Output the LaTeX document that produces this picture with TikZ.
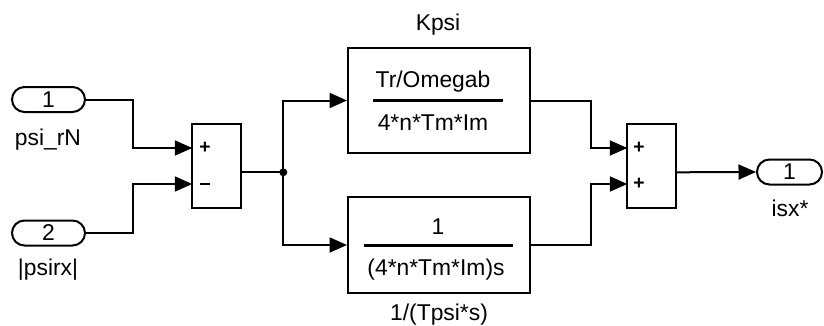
\documentclass[tikz,border=0pt]{standalone}
\usepackage{fontspec}
\setmainfont{Liberation Sans}
\usetikzlibrary{positioning, arrows.meta}

\tikzset{
  wire/.style={line width=0.4mm},
  sig/.style={wire, -{Triangle[length=3.5mm,width=3mm]}},
  port/.style={draw, line width=0.4mm, rounded corners=2.5mm, minimum height=5mm, inner sep=0pt},
  gainbox/.style={draw, line width=0.4mm, minimum width=36.4mm},
  sumbox/.style={draw, line width=0.4mm, minimum width=9.8mm, minimum height=16.8mm},
  sgn/.style={font=\fontsize{11}{12}\selectfont\bfseries, inner sep=0pt},
  bar/.style={line width=0.6mm},
}

\begin{document}
\begin{tikzpicture}[x=0.2mm, y=-0.2mm, font=\fontsize{13}{15}\selectfont]
            \useasboundingbox (0,0) rectangle (824,325);

            % ports
            \node[port, minimum width=14.6mm] (in1) at (48.5,99.5) {1};
            \node (in1lbl) at (48,140) {psi\_rN};
            \node[port, minimum width=14.6mm] (in2) at (48.5,233) {2};
            \node (in2lbl) at (48,270) {|psirx|};
            \node[port, minimum width=13mm] (out1) at (789.5,172) {1};
            \node (out1lbl) at (790,208) {isx*};

            % sums
            \node[sumbox] (sum1) at (216.5,166.3) {};
            \node[sgn] (sum1p) at (205,148) {+};
            \node[sgn] (sum1m) at (205,184) {\rule{2mm}{0.45mm}};
            \coordinate (s1a) at (192.3,148);
            \coordinate (s1b) at (192.3,184);
            \coordinate (s1o) at (241,172.3);
            \node[sumbox] (sum2) at (651.2,166.3) {};
            \node[sgn] (sum2p) at (639,148) {+};
            \node[sgn] (sum2q) at (639,184) {+};
            \coordinate (s2a) at (627.3,148);
            \coordinate (s2b) at (627.3,184);
            \coordinate (s2o) at (675,172.3);

            % gains
            \node[gainbox, minimum height=21mm] (kpsi) at (439,100.5) {};
            \node (kpsilbl) at (438,25) {Kpsi};
            \node (kpsinum) at (433,82) {Tr/Omegab};
            \node (kpsiden) at (433,123) {4*n*Tm*Im};
            \draw[bar] (373,100) -- (503,100);

            \node[gainbox, minimum height=19.2mm] (integ) at (439,245) {};
            \node (integlbl) at (439,315) {1/(Tpsi*s)};
            \node (integnum) at (438,227) {1};
            \node (integden) at (436,270) {(4*n*Tm*Im)s};
            \draw[bar] (364,245) -- (513,245);

            % connectors
            \coordinate (split) at (283.3,172.3);
            \draw[sig] (in1.east) -- ++(47,0) |- (s1a);
            \draw[sig] (in2.east) -- ++(47,0) |- (s1b);
            \draw[wire] (s1o) -- (split);
            \fill (split) circle (0.8mm);
            \draw[sig] (split) |- (kpsi.west);
            \draw[sig] (split) |- (integ.west);
            \draw[sig] (kpsi.east) -- ++(60,0) |- (s2a);
            \draw[sig] (integ.east) -- ++(60,0) |- (s2b);
            \draw[sig] (s2o) -- (out1.west);
        \end{tikzpicture}
\end{document}
